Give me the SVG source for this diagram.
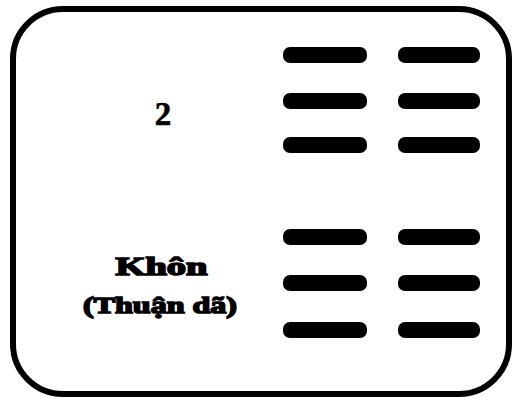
<svg xmlns="http://www.w3.org/2000/svg" width="512" height="398" viewBox="0 0 512 398">
<style>
.bar{fill:#000}
.lbl{font-family:"Liberation Serif","Times New Roman",serif;font-weight:bold;fill:#000;text-anchor:middle}
.heavy{stroke:#000;stroke-width:1.6}
</style>
<rect width="512" height="398" fill="#fff"/>
<g id="card">
<rect x="13" y="9" width="496" height="385" rx="50" ry="50" fill="#fff" stroke="#000" stroke-width="6"/>
</g>
<g id="number">
<text class="lbl" x="163" y="125" font-size="33" stroke="#000" stroke-width="0.6">2</text>
</g>
<g id="name">
<text class="lbl heavy" x="161.5" y="275" font-size="26" textLength="92" lengthAdjust="spacingAndGlyphs">Khôn</text>
<text class="lbl heavy" x="160" y="313" font-size="24" textLength="154" lengthAdjust="spacingAndGlyphs">(Thuận dã)</text>
</g>
<g id="hexagram">
<rect class="bar" x="283" y="47" width="84" height="16" rx="7"/>
<rect class="bar" x="398" y="47" width="82" height="16" rx="7"/>
<rect class="bar" x="283" y="93" width="84" height="16" rx="7"/>
<rect class="bar" x="398" y="93" width="82" height="16" rx="7"/>
<rect class="bar" x="283" y="137" width="84" height="16" rx="7"/>
<rect class="bar" x="398" y="137" width="82" height="16" rx="7"/>
<rect class="bar" x="283" y="229" width="84" height="16" rx="7"/>
<rect class="bar" x="398" y="229" width="82" height="16" rx="7"/>
<rect class="bar" x="283" y="275" width="84" height="16" rx="7"/>
<rect class="bar" x="398" y="275" width="82" height="16" rx="7"/>
<rect class="bar" x="283" y="322" width="84" height="16" rx="7"/>
<rect class="bar" x="398" y="322" width="82" height="16" rx="7"/>
</g>
</svg>
